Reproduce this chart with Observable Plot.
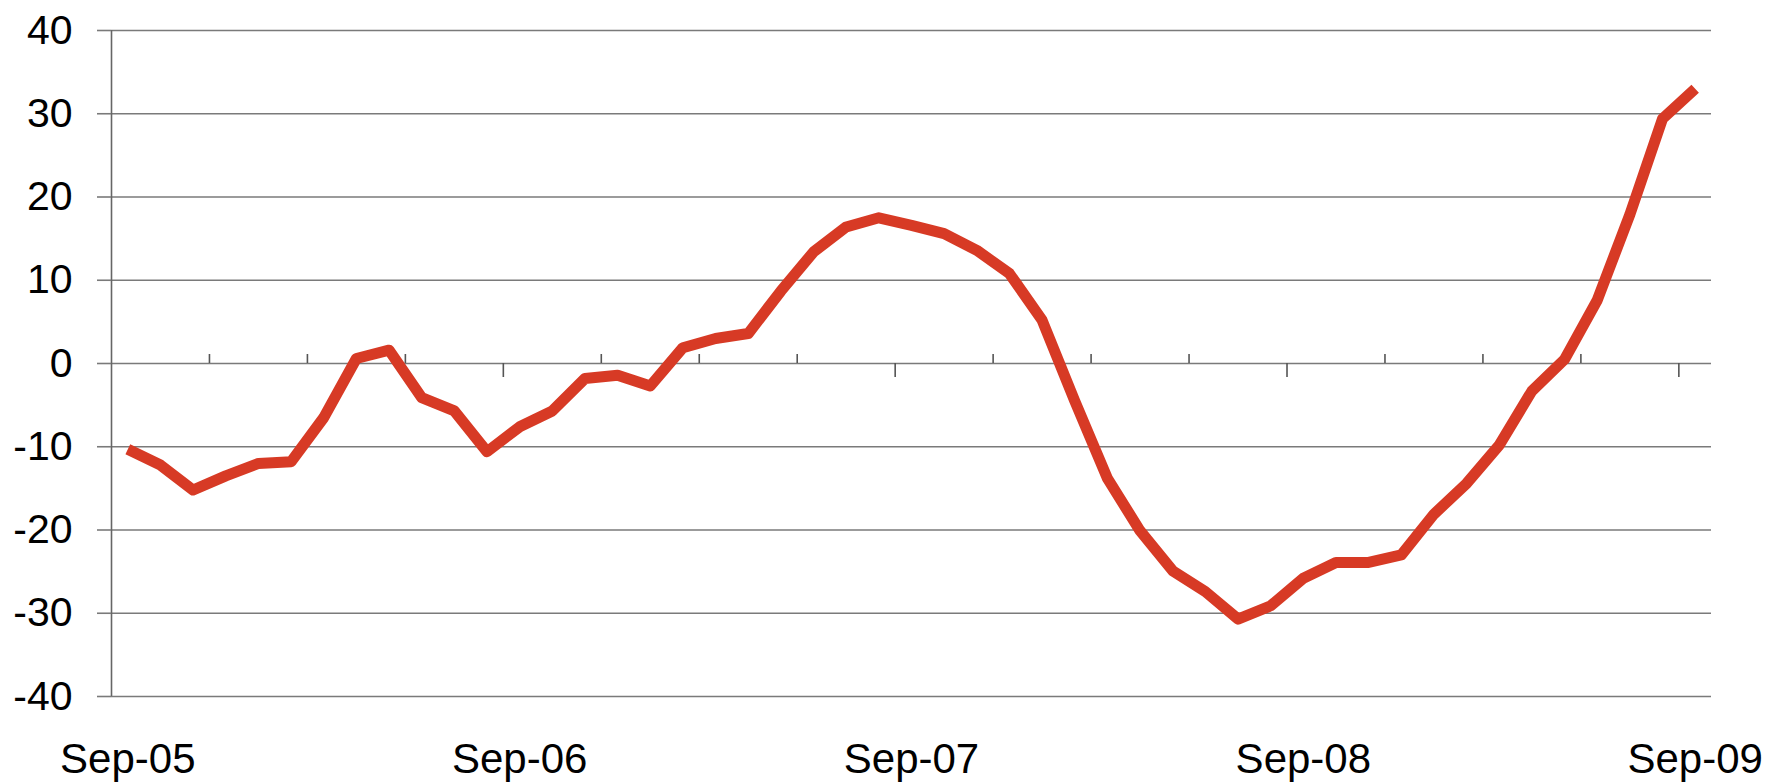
<!DOCTYPE html>
<html>
<head>
<meta charset="utf-8">
<script src="https://cdn.jsdelivr.net/npm/d3@7"></script>
<script src="https://cdn.jsdelivr.net/npm/@observablehq/plot@0.6"></script>
<style>
  html, body { margin: 0; padding: 0; background: #fff; }
  #chart svg { display: block; }
</style>
</head>
<body>
<div id="chart"></div>
<script>
// Monthly values, Sep-05 .. Sep-09 (49 months)
const values = [
  -10.3, -12.2, -15.2, -13.5, -12.0, -11.8, -6.5, 0.6, 1.6, -4.1,
  -5.7, -10.6, -7.6, -5.7, -1.8, -1.4, -2.7, 1.9, 3.0, 3.6,
  8.7, 13.4, 16.4, 17.5, 16.6, 15.6, 13.6, 10.8, 5.2, -4.5,
  -13.8, -20.1, -24.9, -27.4, -30.7, -29.1, -25.8, -23.9, -23.9, -23.0,
  -18.1, -14.4, -9.8, -3.3, 0.5, 7.6, 17.9, 29.4, 33.0
];
const xTickIndex = [0, 12, 24, 36, 48];
const xTickLabels = ["Sep-05", "Sep-06", "Sep-07", "Sep-08", "Sep-09"];
const yTicks = [-40, -30, -20, -10, 0, 10, 20, 30, 40];

const data = values.map((v, i) => ({i, v}));
// category boundaries every 3 months (Excel-style tick marks between categories)
const boundaries = d3.range(1, 17).map(k => ({b: k * 3 - 0.5, major: (k * 3) % 12 === 0}));
const minorTicks = boundaries.filter(d => !d.major);
const majorTicks = boundaries.filter(d => d.major);

const gridColor = "#7a7a7a";
const lineColor = "#d73a25";

const chart = Plot.plot({
  width: 1768,
  height: 783,
  marginLeft: 111,
  marginRight: 57,
  marginTop: 30,
  marginBottom: 87,
  style: {fontFamily: "'Liberation Sans', Arial, Helvetica, sans-serif", color: "black", background: "white"},
  x: {type: "linear", domain: [-0.5, values.length - 0.5]},
  y: {domain: [-40, 40]},
  marks: [
    Plot.ruleY(yTicks, {stroke: gridColor, strokeWidth: 1.6}),
    Plot.ruleX([-0.5], {y1: -40, y2: 40, stroke: "#666", strokeWidth: 1.6}),
    Plot.ruleX(minorTicks, {x: "b", y1: 0, y2: 0, insetTop: -9, insetBottom: 0, stroke: "#555", strokeWidth: 1.6}),
    Plot.ruleX(majorTicks, {x: "b", y1: 0, y2: 0, insetTop: 0, insetBottom: -14, stroke: "#555", strokeWidth: 1.6}),
    Plot.axisY({ticks: yTicks, tickFormat: d => String(d), tickSize: 14, tickPadding: 25, fontSize: 41, stroke: gridColor, strokeWidth: 1.6, fill: "black", label: null}),
    Plot.axisX({ticks: xTickIndex, tickFormat: i => xTickLabels[xTickIndex.indexOf(i)], tickSize: 0, tickPadding: 47, fontSize: 42, fill: "black", label: null}),
    Plot.line(data, {x: "i", y: "v", stroke: lineColor, strokeWidth: 11, strokeLinejoin: "round", strokeLinecap: "butt"})
  ]
});
document.getElementById("chart").appendChild(chart);
</script>
</body>
</html>
